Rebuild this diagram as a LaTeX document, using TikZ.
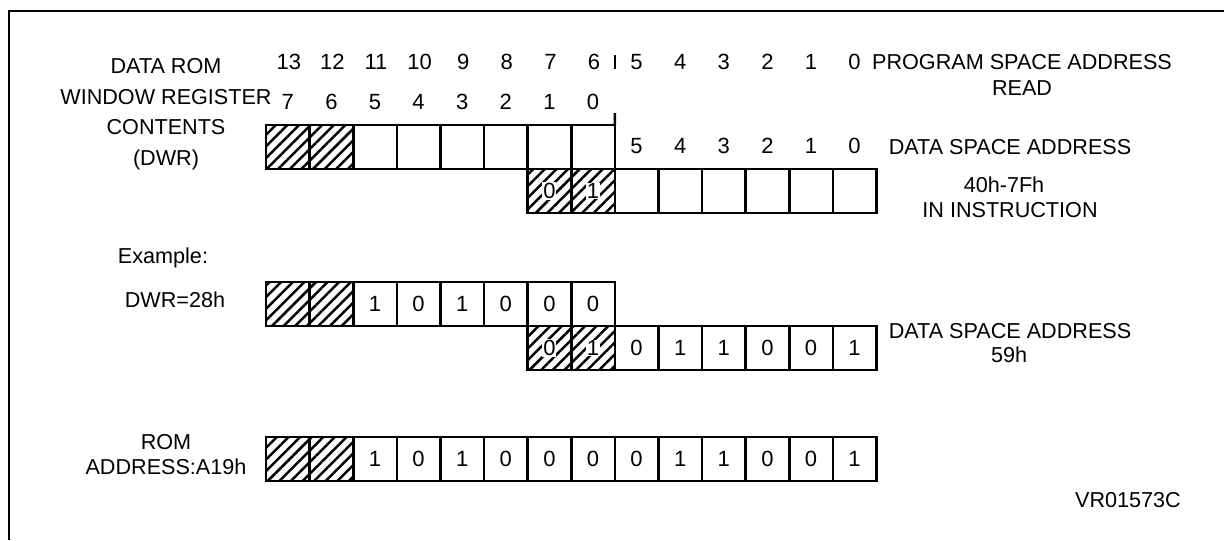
\documentclass[tikz,border=0pt]{standalone}
\usepackage{fontspec}
\setmainfont{Liberation Sans}
\usepackage{tikz}
\usetikzlibrary{patterns.meta}

\begin{document}
\begin{tikzpicture}[x=0.5pt, y=-0.5pt,
  cell/.style={draw, line width=1.3pt, minimum width=21.8pt, minimum height=22pt,
               inner sep=0pt, outer sep=0pt, font=\fontsize{11}{13}\selectfont},
  hatch/.style={cell, pattern={Lines[angle=45, distance=4.1pt, line width=1.25pt]}},
  bitbg/.style={fill=white, inner sep=0.4pt, font=\fontsize{11}{13}\selectfont},
  bitno/.style={inner sep=0pt, font=\fontsize{11}{13}\selectfont},
  desc/.style={align=center, inner sep=0pt, font=\fontsize{10.8}{15.3}\selectfont}
]
\useasboundingbox (0,0) rectangle (1224,540);

% --- frame ---
\draw[line width=1.3pt] (9,540) -- (9,11) -- (1224,11);

% --- bit numbers ---
\foreach \n [count=\i from 0] in {13,12,...,6}
  \node[bitno] (pa\n) at ({288.8+43.6*\i},62) {\n};
\foreach \n [count=\i from 8] in {5,4,...,0}
  \node[bitno] (pa\n) at ({287.8+43.6*\i},62) {\n};
\foreach \n [count=\i from 0] in {7,6,...,0}
  \node[bitno] (dw\n) at ({287.8+43.6*\i},102) {\n};
\foreach \n [count=\i from 8] in {5,4,...,0}
  \node[bitno] (ds\n) at ({287.8+43.6*\i},146) {\n};

\coordinate (ticka) at (614.8,55);
\coordinate (tickb) at (614.8,69);
\draw[line width=1.3pt] (ticka) -- (tickb);

% --- DWR register ---
\foreach \i in {0,1}
  \node[hatch] (dwr\i) at ({287.8+43.6*\i},147) {};
\foreach \i in {2,...,7}
  \node[cell] (dwr\i) at ({287.8+43.6*\i},147) {};
\coordinate (divtop) at (614.8,113);
\draw[line width=1.3pt] (divtop) -- (dwr7.north east);

% --- data space address ---
\foreach \i/\b in {6/0,7/1} {
  \node[hatch] (dsa\i) at ({287.8+43.6*\i},191) {};
  \node[bitbg] (dsab\i) at (dsa\i) {\b};
}
\foreach \i in {8,...,13}
  \node[cell] (dsa\i) at ({287.8+43.6*\i},191) {};

% --- example: DWR=28h ---
\foreach \i in {0,1}
  \node[hatch] (ex\i) at ({287.8+43.6*\i},304) {};
\foreach \i/\b in {2/1,3/0,4/1,5/0,6/0,7/0}
  \node[cell] (ex\i) at ({287.8+43.6*\i},304) {\b};

% --- example: data space address 59h ---
\foreach \i/\b in {6/0,7/1} {
  \node[hatch] (exd\i) at ({287.8+43.6*\i},348) {};
  \node[bitbg] (exdb\i) at (exd\i) {\b};
}
\foreach \i/\b in {8/0,9/1,10/1,11/0,12/0,13/1}
  \node[cell] (exd\i) at ({287.8+43.6*\i},348) {\b};

% --- ROM address ---
\foreach \i in {0,1}
  \node[hatch] (rom\i) at ({287.8+43.6*\i},459) {};
\foreach \i/\b in {2/1,3/0,4/1,5/0,6/0,7/0,8/0,9/1,10/1,11/0,12/0,13/1}
  \node[cell] (rom\i) at ({287.8+43.6*\i},459) {\b};

% --- labels ---
\node[desc] (dwrlbl) at (166,114) {DATA ROM\\WINDOW REGISTER\\CONTENTS\\(DWR)};
\node[desc, font=\fontsize{10.8}{13}\selectfont] (psalbl) at (1022,75) {PROGRAM SPACE ADDRESS\\READ};
\node[desc] (dsalbl) at (1010,147) {DATA SPACE ADDRESS};
\node[desc] (dsarng) at (1004,185) {40h-7Fh};
\node[desc] (dsains) at (1010,210) {IN INSTRUCTION};
\node[desc] (exlbl) at (163,258) {Example:};
\node[desc] (exdwr) at (175,300) {DWR=28h};
\node[desc] (exdlbl) at (1010,331) {DATA SPACE ADDRESS};
\node[desc] (exdval) at (1009,355) {59h};
\node[desc, font=\fontsize{10.8}{12.5}\selectfont] (romlbl) at (166,455) {ROM\\ADDRESS:A19h};
\node[desc] (ref) at (1128,500) {VR01573C};

\end{tikzpicture}
\end{document}
